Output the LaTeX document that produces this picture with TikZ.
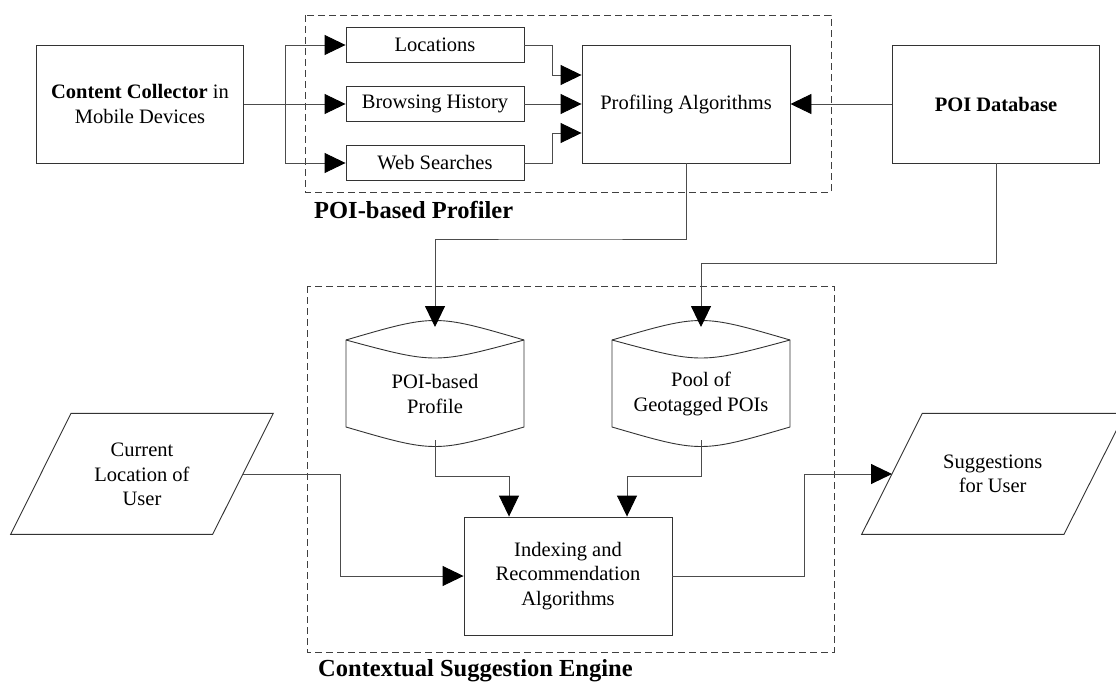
\documentclass[tikz,border=0pt]{standalone}
\usepackage{fontspec}
\setmainfont{Liberation Serif}
\usetikzlibrary{arrows.meta}
\newcommand\myfont{\fontsize{20.5}{24.5}\selectfont}
\newcommand\mylabfont{\fontsize{24.5}{28}\selectfont\bfseries}
\begin{document}
\begin{tikzpicture}[x=1pt,y=-1pt,
  box/.style={draw=black!80, line width=0.9pt, inner sep=0pt, align=center, font=\myfont},
  txt/.style={inner sep=0pt, align=center, font=\myfont},
  shp/.style={draw=black!80, line width=0.9pt},
  conn/.style={draw=black!70, line width=0.9pt, -{Triangle[length=21pt,width=20pt,color=black]}},
  plain/.style={draw=black!70, line width=0.9pt},
  fence/.style={draw=black!75, line width=0.9pt, dash pattern=on 7pt off 4pt},
  lab/.style={anchor=base west, inner sep=0pt, font=\mylabfont}
]
\useasboundingbox (0,0) rectangle (1116,682);

% dashed groups
\draw[fence] (305,15) rectangle (831,192);
\draw[fence] (307,286) rectangle (834,652);
\node[lab] (lab1) at (314,218) {POI-based Profiler};
\node[lab] (lab2) at (318,676) {Contextual Suggestion Engine};

% top row
\node[box, minimum width=207pt, minimum height=118pt] (coll) at (140,104) {\textbf{Content Collector} in\\Mobile Devices};
\node[box, minimum width=178pt, minimum height=35pt] (loc) at (435,45) {Locations};
\node[box, minimum width=178pt, minimum height=35pt] (bro) at (435,104) {Browsing History};
\node[box, minimum width=178pt, minimum height=35pt] (web) at (435,163) {Web Searches};
\node[box, minimum width=208pt, minimum height=118pt] (prof) at (686,104) {Profiling Algorithms};
\node[box, minimum width=207pt, minimum height=118pt] (db) at (996,104) {\textbf{POI Database}};

% cylinders
\draw[shp] (346,340) .. controls (435,314) .. (524,340) -- (524,427) .. controls (435,453) .. (346,427) -- cycle;
\draw[shp] (346,340) .. controls (435,364) .. (524,340);
\node[txt] (pcyl) at (435,394) {POI-based\\Profile};
\coordinate (pcylTop) at (435,327);
\coordinate (pcylBot) at (435,440);

\draw[shp] (612,340) .. controls (701,314) .. (790,340) -- (790,427) .. controls (701,453) .. (612,427) -- cycle;
\draw[shp] (612,340) .. controls (701,364) .. (790,340);
\node[txt] (gcyl) at (701,394) {Pool of\\Geotagged POIs};
\coordinate (gcylTop) at (701,327);
\coordinate (gcylBot) at (701,440);

% index box
\node[box, minimum width=208pt, minimum height=118pt] (idx) at (568,576) {Indexing and\\Recommendation\\Algorithms};

% parallelograms
\draw[shp] (71,413.3) -- (273.3,413.3) -- (212.7,534.3) -- (10.7,534.3) -- cycle;
\node[txt] (cur) at (142,474.5) {Current\\Location of\\User};
\coordinate (curR) at (243,474);

\draw[shp] (922.3,413.3) -- (1125,413.3) -- (1064,534.3) -- (861.7,534.3) -- cycle;
\node[txt] (sug) at (992.7,474) {Suggestions\\for User};
\coordinate (sugL) at (892,474);

% connectors
\draw[conn] (coll.east) -- (bro.west);
\draw[conn] (coll.east) -- ++(41,0) |- (loc.west);
\draw[conn] (coll.east) -- ++(41,0) |- (web.west);
\draw[conn] (loc.east) -- ++(27.8,0) |- ([yshift=29pt]prof.west);
\draw[conn] (bro.east) -- (prof.west);
\draw[conn] (web.east) -- ++(27.8,0) |- ([yshift=-29pt]prof.west);
\draw[conn] (db.west) -- (prof.east);
\draw[conn] (prof.south) |- (560,239) -| (pcylTop);
\draw[conn] (db.south) |- (800,263.3) -| (gcylTop);
\draw[conn] (pcylBot) -- ++(0,36) -| ([xshift=-59pt]idx.north);
\draw[conn] (gcylBot) -- ++(0,36) -| ([xshift=59pt]idx.north);
\draw[conn] (curR) -- ++(97,0) |- (idx.west);
\draw[conn] (idx.east) -- ++(132,0) |- (sugL);
\end{tikzpicture}
\end{document}
